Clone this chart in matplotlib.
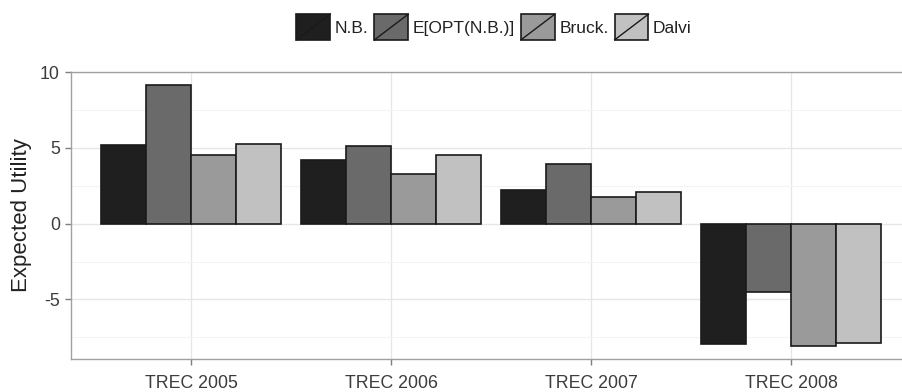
import numpy as np
import matplotlib
matplotlib.use("Agg")
import matplotlib.pyplot as plt
from matplotlib.patches import Rectangle
from matplotlib.lines import Line2D
from matplotlib.legend_handler import HandlerBase

plt.rcParams['font.family'] = ['Liberation Sans', 'DejaVu Sans']
plt.rcParams['axes.unicode_minus'] = False

# data
categories = ["TREC 2005", "TREC 2006", "TREC 2007", "TREC 2008"]
methods = ["N.B.", "E[OPT(N.B.)]", "Bruck.", "Dalvi"]
nb = [5.2, 4.2, 2.2, -7.95]
eopt = [9.15, 5.1, 3.9, -4.5]
bruck = [4.55, 3.3, 1.75, -8.05]
dalvi = [5.25, 4.5, 2.1, -7.9]
yticks = [-5, 0, 5, 10]

series = [nb, eopt, bruck, dalvi]
fills = ["#1f1f1f", "#6a6a6a", "#9a9a9a", "#c1c1c1"]
edge = "#1a1a1a"
text_col = "#3c3c3c"


class SlashKeyHandler(HandlerBase):
    """ggplot-style bar key: filled square with a diagonal line"""
    def create_artists(self, legend, orig_handle, xdescent, ydescent,
                       width, height, fontsize, trans):
        rect = Rectangle((-xdescent, -ydescent), width, height,
                         facecolor=orig_handle.get_facecolor(),
                         edgecolor=edge, linewidth=1.2, transform=trans)
        line = Line2D([-xdescent, -xdescent + width],
                      [-ydescent, -ydescent + height],
                      color=edge, linewidth=1.0, transform=trans)
        return [rect, line]


fig = plt.figure(figsize=(9.03, 3.92), dpi=100)
W, H = 903.0, 392.0
ax = fig.add_axes([71 / W, 1 - 359 / H, 840 / W, (359 - 72) / H])

x = np.arange(1, len(categories) + 1)
bw = 0.225
for i, (vals, col) in enumerate(zip(series, fills)):
    ax.bar(x + (i - 1.5) * bw, vals, width=bw, color=col,
           edgecolor=edge, linewidth=1.2, zorder=3, label=methods[i])

ax.set_xlim(0.4, 4.6)
ax.set_ylim(-8.93, 10.0)
ax.set_xticks(x)
ax.set_xticklabels(categories)
ax.set_yticks(yticks)
ax.set_yticks([-7.5, -2.5, 2.5, 7.5], minor=True)

ax.grid(True, which="major", color="#e6e6e6", linewidth=1.0, zorder=0)
ax.grid(True, which="minor", axis="y", color="#f4f4f4", linewidth=0.8, zorder=0)
ax.set_axisbelow(True)

for sp in ax.spines.values():
    sp.set_color("#a0a0a0")
    sp.set_linewidth(1.0)

ax.tick_params(axis="both", which="major", colors="#7f7f7f", labelcolor=text_col,
               length=4, width=1.0, labelsize=12.8, pad=4)
ax.tick_params(axis="x", which="major", pad=7.5)
ax.tick_params(axis="both", which="minor", length=0)

ax.set_ylabel("Expected Utility", fontsize=16, color="#222222")
ax.yaxis.set_label_coords(-0.047, 0.5)

handles = [Rectangle((0, 0), 1, 1, facecolor=c) for c in fills]
fig.legend(handles, methods, loc="center", bbox_to_anchor=(494 / W, 1 - 27 / H),
           ncol=4, frameon=False, fontsize=12.5, labelcolor="#222222",
           handler_map={Rectangle: SlashKeyHandler()},
           handlelength=1.95, handleheight=1.9, handletextpad=0.25,
           columnspacing=0.35, borderaxespad=0, borderpad=0)

fig.savefig("out.png", dpi=100)
